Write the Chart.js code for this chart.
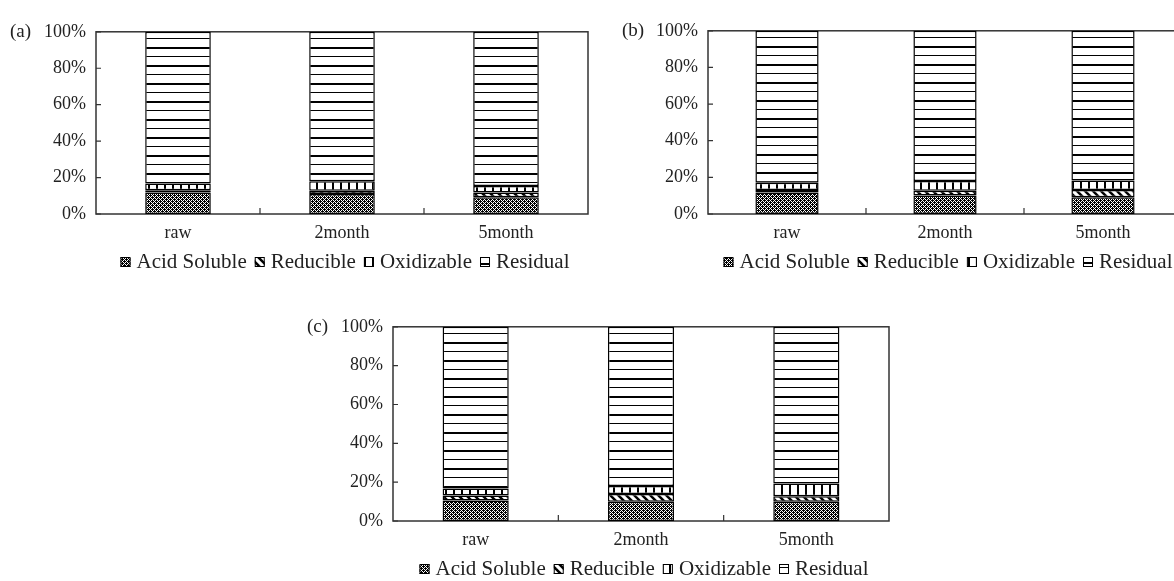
<!doctype html>
<html lang="en">
<head>
<meta charset="utf-8">
<title>Fractions</title>
<style>
  html, body { margin: 0; padding: 0; background: #fff; overflow: hidden; width: 1174px; height: 581px; }
  canvas { position: absolute; }
</style>
</head>
<body>
<canvas id="chart_a"></canvas>
<canvas id="chart_b"></canvas>
<canvas id="chart_c"></canvas>

<script src="https://cdn.jsdelivr.net/npm/chart.js"></script>
<script>
// data (percent of total)
const categories = ['raw', '2month', '5month'];
const fractions = ['Acid Soluble', 'Reducible', 'Oxidizable', 'Residual'];
const tickValues = [0, 20, 40, 60, 80, 100];

const acidA = [11.8, 11.0, 9.2];
const reducA = [1.3, 1.7, 2.6];
const oxidA = [3.7, 5.3, 3.5];
const residA = [83.2, 82.0, 84.7];

const acidB = [11.8, 10.1, 9.2];
const reducB = [1.3, 2.6, 3.9];
const oxidB = [4.0, 5.3, 5.2];
const residB = [82.9, 82.0, 81.7];

const acidC = [10.5, 9.9, 9.9];
const reducC = [2.6, 4.0, 2.8];
const oxidC = [3.6, 4.1, 6.6];
const residC = [83.3, 82.0, 80.7];

const Y_W = 92, X_H = 60, PAD_T = 12, PAD_R = 4;
const SERIF = '"Liberation Serif", "Times New Roman", serif';

function makePattern(kind) {
    const c = document.createElement('canvas');
    const g = c.getContext('2d');
    if (kind === 'check') {
        c.width = 4; c.height = 4;
        g.fillStyle = '#000'; g.fillRect(0, 0, 4, 4);
        g.fillStyle = '#fff';
        [[1,1],[3,3],[1,3],[3,1],[0,0],[2,2]].forEach(p => g.fillRect(p[0], p[1], 1, 1));
    } else if (kind === 'diag') {
        c.width = 8; c.height = 8;
        g.fillStyle = '#fff'; g.fillRect(0, 0, 8, 8);
        g.strokeStyle = '#000'; g.lineWidth = 2.5;
        [-8, 0, 8].forEach(o => { g.beginPath(); g.moveTo(o - 2, -2); g.lineTo(o + 10, 10); g.stroke(); });
    } else if (kind === 'vert') {
        c.width = 8; c.height = 2;
        g.fillStyle = '#fff'; g.fillRect(0, 0, 8, 2);
        g.fillStyle = '#000'; g.fillRect(0, 0, 2, 2);
    } else {
        c.width = 2; c.height = 18;
        g.fillStyle = '#fff'; g.fillRect(0, 0, 2, 18);
        g.fillStyle = '#000'; g.fillRect(0, 0, 2, 2); g.fillRect(0, 9, 2, 1);
    }
    return g.createPattern(c, 'repeat');
}

const fills = [makePattern('check'), makePattern('diag'), makePattern('vert'), makePattern('horiz')];

const framePlugin = {
    id: 'frame',
    beforeDatasetsDraw(chart) {
        const ctx = chart.ctx, a = chart.chartArea;
        ctx.save();
        ctx.strokeStyle = '#333';
        ctx.lineWidth = 1.5;
        ctx.strokeRect(a.left, a.top, a.right - a.left, a.bottom - a.top);
        ctx.restore();
    },
    afterDraw(chart, args, opts) {
        const ctx = chart.ctx, a = chart.chartArea;
        const x = chart.scales.x, y = chart.scales.y;
        ctx.save();
        ctx.strokeStyle = '#333';
        ctx.lineWidth = 1.2;
        ctx.beginPath();
        y.ticks.forEach(t => {
            const py = y.getPixelForValue(t.value);
            ctx.moveTo(a.left, py); ctx.lineTo(a.left + 5, py);
        });
        for (let i = 0; i < x.ticks.length - 1; i++) {
            const px = (x.getPixelForTick(i) + x.getPixelForTick(i + 1)) / 2;
            ctx.moveTo(px, a.bottom); ctx.lineTo(px, a.bottom - 6);
        }
        ctx.stroke();

        // panel letter
        ctx.fillStyle = '#222';
        ctx.font = '19px ' + SERIF;
        ctx.textBaseline = 'middle';
        ctx.textAlign = 'left';
        ctx.fillText(opts.letter, a.left - 86, a.top);

        // legend
        ctx.font = '21px ' + SERIF;
        const items = chart.data.datasets;
        const box = 10, gapIn = 6, gapOut = 8;
        const widths = items.map(d => ctx.measureText(d.label).width);
        const total = widths.reduce((s, w) => s + w, 0) + items.length * (box + gapIn) + (items.length - 1) * gapOut;
        let lx = (a.left + a.right) / 2 - total / 2 + 3;
        const ly = a.bottom + 48;
        items.forEach((d, i) => {
            ctx.fillStyle = d.backgroundColor;
            ctx.fillRect(lx, ly - box / 2, box, box);
            ctx.strokeStyle = '#000';
            ctx.lineWidth = 1;
            ctx.strokeRect(lx + 0.5, ly - box / 2 + 0.5, box - 1, box - 1);
            lx += box + gapIn;
            ctx.fillStyle = '#222';
            ctx.fillText(d.label, lx, ly);
            lx += widths[i] + gapOut;
        });
        ctx.restore();
    }
};

function create_chart(id, letter, area, series) {
    const cv = document.getElementById(id);
    cv.style.left = (area.left - Y_W) + 'px';
    cv.style.top = (area.top - PAD_T) + 'px';
    cv.width = Math.round(Y_W + (area.right - area.left) + PAD_R);
    cv.height = Math.round(PAD_T + (area.bottom - area.top) + X_H);

    const datasets = series.map((vals, i) => ({
        label: fractions[i],
        data: vals,
        backgroundColor: fills[i],
        borderColor: '#000',
        borderWidth: 1.5,
        borderSkipped: false,
        barPercentage: 0.4,
        categoryPercentage: 1.0
    }));

    return new Chart(cv, {
        type: 'bar',
        data: { labels: categories, datasets: datasets },
        options: {
            responsive: false,
            animation: false,
            devicePixelRatio: 1,
            events: [],
            layout: { padding: { top: PAD_T, right: PAD_R, left: 0, bottom: 0 } },
            plugins: { legend: { display: false }, tooltip: { enabled: false }, frame: { letter: letter } },
            scales: {
                x: {
                    stacked: true,
                    offset: true,
                    grid: { display: false, drawTicks: false },
                    border: { display: false },
                    ticks: { color: '#222', padding: 8, font: { family: SERIF, size: 18 } },
                    afterFit: s => { s.height = X_H; }
                },
                y: {
                    stacked: true,
                    min: 0,
                    max: 100,
                    grid: { display: false, drawTicks: false },
                    border: { display: false },
                    afterBuildTicks: s => { s.ticks = tickValues.map(v => ({ value: v })); },
                    ticks: { color: '#222', padding: 10, font: { family: SERIF, size: 18 }, callback: v => v + '%' },
                    afterFit: s => { s.width = Y_W; }
                }
            }
        },
        plugins: [framePlugin]
    });
}

create_chart('chart_a', '(a)', { left: 96, top: 23, right: 588, bottom: 214 }, [acidA, reducA, oxidA, residA]);
create_chart('chart_b', '(b)', { left: 708, top: 22, right: 1182, bottom: 214 }, [acidB, reducB, oxidB, residB]);
create_chart('chart_c', '(c)', { left: 393, top: 318, right: 889, bottom: 521 }, [acidC, reducC, oxidC, residC]);
</script>
</body>
</html>
